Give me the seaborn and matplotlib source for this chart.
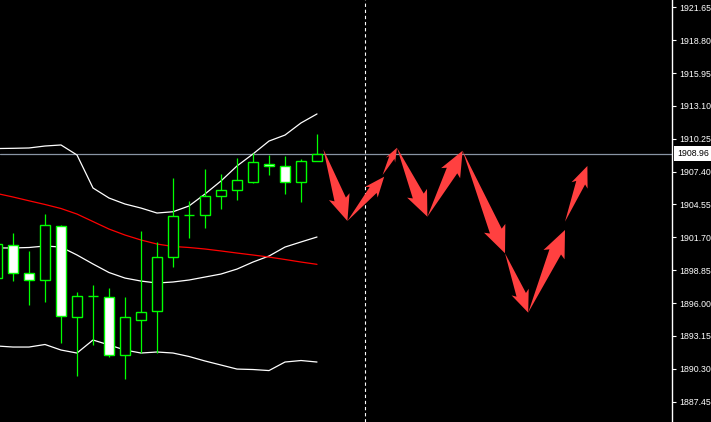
import numpy as np
import pandas as pd
import matplotlib
matplotlib.use('Agg')
import matplotlib.pyplot as plt
import seaborn as sns

# candles (bar index, OHLC)
bar_idx = list(range(21))
opens = [1898.17, 1901.04, 1898.61, 1898.00, 1902.68, 1894.79, 1896.61, 1896.53, 1891.50, 1894.53, 1895.31,
         1900.00, 1903.64, 1903.64, 1905.28, 1905.81, 1906.50, 1908.06, 1907.89, 1906.50, 1908.32]
highs = [1901.47, 1902.08, 1900.52, 1903.72, 1902.77, 1896.96, 1897.57, 1897.31, 1896.53, 1902.25, 1901.30,
         1906.85, 1904.85, 1907.63, 1907.19, 1908.58, 1909.01, 1908.84, 1908.75, 1908.49, 1910.66]
lows = [1897.83, 1897.91, 1895.83, 1896.09, 1892.54, 1889.68, 1892.37, 1891.33, 1889.42, 1891.67, 1891.67,
        1899.13, 1901.64, 1902.51, 1904.16, 1904.94, 1906.41, 1907.11, 1905.46, 1904.76, 1908.32]
closes = [1901.12, 1898.61, 1898.00, 1902.77, 1894.88, 1896.61, 1896.61, 1891.50, 1894.79, 1895.23, 1900.00,
          1903.55, 1903.64, 1905.28, 1905.81, 1906.67, 1908.23, 1907.89, 1906.50, 1908.32, 1908.96]

# bollinger bands + moving average
bb_upper = [1909.40, 1909.42, 1909.45, 1909.62, 1909.71, 1908.84, 1905.98, 1905.11, 1904.59, 1904.24, 1903.81,
            1903.92, 1904.42, 1905.46, 1906.59, 1907.89, 1908.93, 1910.05, 1910.57, 1911.62, 1912.40]
bb_mid = [1900.78, 1900.78, 1900.82, 1900.95, 1900.86, 1900.17, 1899.39, 1898.65, 1898.17, 1897.91, 1897.74,
          1897.83, 1898.00, 1898.26, 1898.52, 1898.95, 1899.56, 1900.08, 1900.86, 1901.30, 1901.73]
bb_lower = [1892.28, 1892.19, 1892.19, 1892.41, 1891.93, 1891.67, 1892.80, 1892.37, 1891.93, 1891.67, 1891.76,
            1891.67, 1891.37, 1890.98, 1890.63, 1890.28, 1890.24, 1890.15, 1890.89, 1891.02, 1890.89]
ma_red = [1905.50, 1905.20, 1904.87, 1904.55, 1904.20, 1903.72, 1903.07, 1902.42, 1901.90, 1901.47, 1901.12,
          1900.91, 1900.82, 1900.69, 1900.52, 1900.34, 1900.17, 1899.99, 1899.78, 1899.56, 1899.36]

# forecast arrows (start -> tip)
arrow_x0 = [20.4, 21.9, 24.1, 25.0, 26.9, 29.1, 31.75, 33.2, 35.5]
arrow_y0 = [1909.33, 1903.12, 1907.11, 1909.47, 1903.49, 1909.21, 1900.32, 1895.17, 1903.06]
arrow_x1 = [21.9, 24.2, 25.0, 26.9, 29.1, 31.75, 33.2, 35.5, 36.9]
arrow_y1 = [1903.12, 1906.96, 1909.47, 1903.49, 1909.21, 1900.32, 1895.17, 1902.34, 1907.89]

current_price = 1908.96
separator_bar = 23
tick_labels = ['1921.65', '1918.80', '1915.95', '1913.10', '1910.25', '1907.40', '1904.55',
               '1901.70', '1898.85', '1896.00', '1893.15', '1890.30', '1887.45']

sns.set_style('dark', {'axes.facecolor': 'black', 'figure.facecolor': 'black'})
plt.rcParams['font.family'] = ['Liberation Sans', 'DejaVu Sans']

fig = plt.figure(figsize=(7.11, 4.22), dpi=100)
ax = fig.add_axes([0, 0, 672 / 711, 1])
ax.set_facecolor('black')
ax.set_xlim(0.1875, 42.1875)
ax.set_ylim(1885.69, 1922.28)

df = pd.DataFrame({'bar': bar_idx, 'upper': bb_upper, 'mid': bb_mid, 'lower': bb_lower, 'ma': ma_red})
for col in ['upper', 'mid', 'lower']:
    sns.lineplot(data=df, x='bar', y=col, ax=ax, color='white', lw=0.9, zorder=2)
sns.lineplot(data=df, x='bar', y='ma', ax=ax, color='#FF0000', lw=0.9, zorder=2)

# current price line and separator
ax.axhline(current_price, color='#8894a4', lw=0.9, zorder=1)
ax.axvline(separator_bar, color='white', lw=0.8, linestyle=(0, (3, 2.5)), zorder=1)

# candles
o = np.array(opens)
c = np.array(closes)
ax.vlines(bar_idx, lows, highs, color='#00FF00', lw=0.9, zorder=3)
fills = ['white' if cc < oo else 'black' for oo, cc in zip(o, c)]
ax.bar(bar_idx, np.abs(c - o), bottom=np.minimum(o, c), width=0.63, color=fills,
       edgecolor='#00FF00', linewidth=1.0, zorder=4)

# arrows, built in pixel space then mapped back to data coords
inv = ax.transData.inverted()
for xs, ys, xe, ye in zip(arrow_x0, arrow_y0, arrow_x1, arrow_y1):
    s = ax.transData.transform((xs, ys))
    t = ax.transData.transform((xe, ye))
    d = t - s
    L = np.hypot(*d)
    u = d / L
    n = np.array([-u[1], u[0]])
    hl = np.clip(0.3 * L, 11, 24)
    hw = 0.48 * hl
    sw = 0.55 * hw
    b = t - u * hl
    pts = [s, b + n * sw, b - u * 3 + n * hw, t, b - u * 3 - n * hw, b - n * sw]
    pts = inv.transform(np.array(pts))
    ax.fill(pts[:, 0], pts[:, 1], color='#FF4040', lw=0, zorder=5)

# right price axis
ax.yaxis.tick_right()
ax.set_yticks([float(v) for v in tick_labels])
ax.set_yticklabels(tick_labels)
ax.tick_params(axis='y', colors='white', labelcolor='white', labelsize=6.3, length=3, width=0.8,
               pad=2, direction='out', right=True, left=False)
ax.set_xticks([])
ax.set_xlabel('')
ax.set_ylabel('')
for side in ['top', 'bottom', 'left']:
    ax.spines[side].set_visible(False)
ax.spines['right'].set_visible(True)
ax.spines['right'].set_color('white')
ax.spines['right'].set_linewidth(1.0)
ax.grid(False)

ax.text(1.0 + 5 / 672, current_price, f'{current_price:.2f}', transform=ax.get_yaxis_transform(),
        ha='left', va='center', fontsize=6.3, color='black', clip_on=False, zorder=10,
        bbox=dict(boxstyle='square,pad=0.35', fc='white', ec='none'))

fig.savefig('out.png', dpi=100, facecolor='black')
